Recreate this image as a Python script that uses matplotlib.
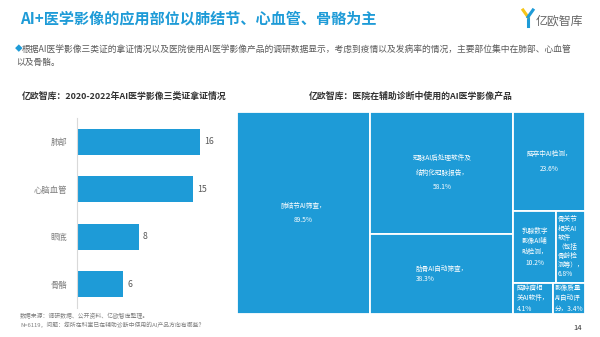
import matplotlib
matplotlib.use("Agg")
import matplotlib.pyplot as plt
from matplotlib.patches import Rectangle
from matplotlib.lines import Line2D

plt.rcParams['font.family'] = ['Noto Sans CJK SC', 'DejaVu Sans']

W, H = 600, 337
BLUE = '#1E9BD7'
GRAY = '#595959'

# left chart: class III certificates 2020-2022
parts = ['肺部', '心脑血管', '眼底', '骨骼']
certs = [16, 15, 8, 6]

# right chart: AI imaging products used by hospitals (%)
products = ['肺结节AI筛查', '冠脉AI后处理软件及结构化冠脉报告', '肋骨AI自动筛查', '脑卒中AI检测',
            '乳腺数字影像AI辅助检测', '骨关节相关AI软件（包括骨龄检测等）', '脑肿瘤相关AI软件', '影像质量AI自动评分']
shares = [89.5, 58.1, 38.3, 23.6, 10.2, 6.8, 4.1, 3.4]
# cell text, wrapped as in the picture
product_labels = [
    '肺结节AI筛查，\n89.5%',
    '冠脉AI后处理软件及\n结构化冠脉报告，\n58.1%',
    '肋骨AI自动筛查，\n38.3%',
    '脑卒中AI检测，\n23.6%',
    '乳腺数字\n影像AI辅\n助检测，\n10.2%',
    '骨关节\n相关AI\n软件\n（包括\n骨龄检\n测等），\n6.8%',
    '脑肿瘤相\n关AI软件，\n4.1%',
    '影像质量\nAI自动评\n分，3.4%',
]
# treemap nesting: columns -> rows -> cells (indices into shares)
tree = [[[0]], [[1], [2]], [[3], [4, 5], [6, 7]]]


def px(x, y):
    # pixel position -> figure fraction
    return x / W, 1 - y / H


def slice_dice(tree, vals):
    total = sum(vals)
    out = {}
    x = 0.0
    for col in tree:
        col_sum = sum(vals[i] for row in col for i in row)
        cw = col_sum / total
        y = 0.0
        for row in col:
            row_sum = sum(vals[i] for i in row)
            rh = row_sum / col_sum
            xx = x
            for i in row:
                ww = cw * vals[i] / row_sum
                out[i] = (xx, y, ww, rh)
                xx += ww
            y += rh
        x += cw
    return out


fig = plt.figure(figsize=(W / 100, H / 100), dpi=100)

# header
fig.text(*px(20, 18), 'AI+医学影像的应用部位以肺结节、心血管、骨骼为主', fontsize=10.9,
         weight='bold', color=BLUE, va='center')
fig.text(*px(536, 21), '亿欧智库', fontsize=8.6, color='#666666', va='center')
fig.add_artist(Line2D([528 / W, 528 / W], [1 - 26 / H, 1 - 17 / H], color=BLUE, lw=2.2))
fig.add_artist(Line2D([523 / W, 528 / W], [1 - 10 / H, 1 - 17 / H], color='#F5C518', lw=2.2))
fig.add_artist(Line2D([533 / W, 528 / W], [1 - 10 / H, 1 - 17 / H], color=BLUE, lw=2.2))

fig.text(*px(15, 49), '◆', fontsize=5.5, color=BLUE, va='center')
fig.text(*px(22, 49), '根据AI医学影像三类证的拿证情况以及医院使用AI医学影像产品的调研数据显示，'
         '考虑到疫情以及发病率的情况，主要部位集中在肺部、心血管', fontsize=6.3, color=GRAY, va='center')
fig.text(*px(16, 63), '以及骨骼。', fontsize=6.3, color=GRAY, va='center')

# left: bar chart
fig.text(*px(22, 96), '亿欧智库：2020-2022年AI医学影像三类证拿证情况', fontsize=6.4,
         weight='bold', color='#333333', va='center')
ax = fig.add_axes([77 / W, 1 - 308 / H, 143 / W, 190 / H])
ypos = list(range(len(parts)))
ax.barh(ypos, certs, height=0.55, color=BLUE)
for y, v in zip(ypos, certs):
    ax.text(v + 0.55, y, str(v), va='center', ha='left', fontsize=6.3, color=GRAY)
ax.set_xlim(0, 18.57)
ax.set_ylim(3.5, -0.5)
ax.set_yticks(ypos)
ax.set_yticklabels(parts, fontsize=6, color='#7f7f7f')
ax.tick_params(axis='y', length=0, pad=7)
ax.set_xticks([])
for s in ['top', 'right', 'bottom']:
    ax.spines[s].set_visible(False)
ax.spines['left'].set_color('#d9d9d9')
ax.spines['left'].set_linewidth(0.8)
ax.patch.set_visible(False)

fig.text(*px(20, 316), '数据来源：调研数据、公开资料、亿欧智库整理。', fontsize=4.2, color='#7f7f7f', va='center')
fig.text(*px(20, 325), 'N=6119，问题：您所在科室已在辅助诊断中使用的AI产品方向有哪些？', fontsize=4.2,
         color='#7f7f7f', va='center')

# right: treemap
fig.text(*px(411, 96), '亿欧智库：医院在辅助诊断中使用的AI医学影像产品', fontsize=6.4,
         weight='bold', color='#333333', va='center', ha='center')
tm = fig.add_axes([237 / W, 1 - 314 / H, 348 / W, 202 / H])
tm.set_xlim(0, 1)
tm.set_ylim(1, 0)
tm.axis('off')
for i, (x, y, w, h) in slice_dice(tree, shares).items():
    tm.add_patch(Rectangle((x, y), w, h, facecolor=BLUE, edgecolor='white', lw=1.3))
    big = h > 0.45
    nlines = product_labels[i].count('\n') + 1
    spacing = 2.1 if big else (1.2 if nlines > 5 else 1.45)
    tm.text(x + w / 2, y + h / 2, product_labels[i], ha='center', va='center',
            multialignment='center' if (big or i in (3, 4)) else 'left',
            fontsize=4.8, color='white', linespacing=spacing)

fig.text(*px(578, 328), '14', fontsize=5.5, color='#333333', va='center', ha='center')

fig.savefig('out.png', dpi=100)
